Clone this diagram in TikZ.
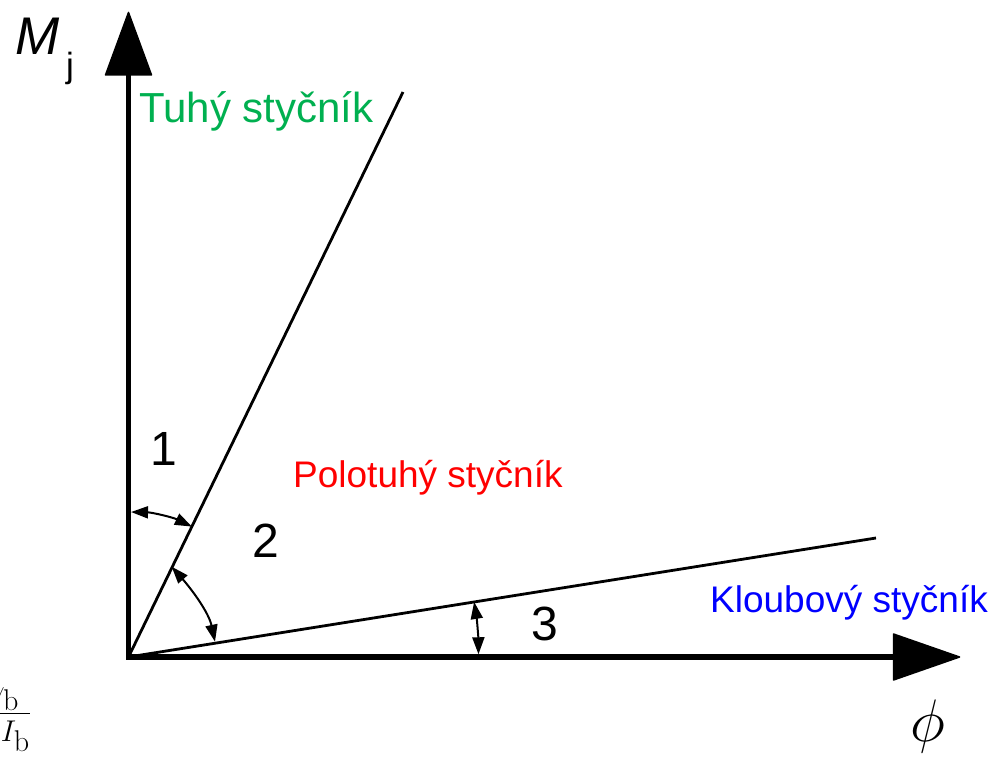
\RequirePackage{fix-cm}
\documentclass[tikz,border=0pt]{standalone}
\usepackage[no-math]{fontspec}
\setmainfont{Liberation Sans}
\usetikzlibrary{arrows.meta,calc}
\definecolor{rigidgreen}{RGB}{0,176,80}
\definecolor{semired}{RGB}{255,0,0}
\definecolor{pinblue}{RGB}{0,0,255}
\begin{document}
\begin{tikzpicture}[x=1pt,y=1pt,
  axisline/.style={line width=5.5pt, line join=miter},
  axishead/.style={fill=black, draw=black, line width=1.5pt, line join=round},
  jointline/.style={line width=2.8pt},
  anglemark/.style={line width=2pt, {Triangle[length=17pt,width=12pt]}-{Triangle[length=17pt,width=12pt]}},
  lbl/.style={inner sep=0pt, anchor=base west},
  num/.style={inner sep=0pt, anchor=base, font=\fontsize{48}{56}\selectfont},
]
\useasboundingbox (0,0) rectangle (992,756);
\coordinate (O) at (128.5,99);
\coordinate (Ytip) at (128.5,743.5);
\coordinate (Ybase) at (128.5,681);
\coordinate (Xtip) at (959.5,99);
\coordinate (Xbase) at (893.5,99);
\coordinate (Rend) at (403,664);
\coordinate (Kend) at (876,218);
% axes
\draw[axisline] (Ybase) -- (O) -- (Xbase);
\filldraw[axishead] (Ytip) -- (105.5,681) -- (151.5,681) -- cycle;
\filldraw[axishead] (Xtip) -- (893.5,122) -- (893.5,76) -- cycle;
% joint lines
\draw[jointline] (O) -- (Rend);
\draw[jointline] (O) -- (Kend);
% angle marks
\draw[anglemark] ($(O)+(89:145)$) arc[start angle=89, end angle=64.1, radius=145];
\draw[anglemark] (171.7,189.3) .. controls (191.5,166.8) and (208.7,143.7) .. (215,114.3);
\draw[anglemark] ($(O)+(9.05:350)$) arc[start angle=9.05, end angle=0.45, radius=350];
% labels
\node[lbl, text=rigidgreen, font=\fontsize{42}{50}\selectfont] (tuhy) at (139,633) {Tuhý styčník};
\node[lbl, text=semired, font=\fontsize{37}{44}\selectfont] (polo) at (293,269) {Polotuhý styčník};
\node[lbl, text=pinblue, font=\fontsize{37}{44}\selectfont] (klou) at (710,144) {Kloubový styčník};
\node[num] (n1) at (164,291) {1};
\node[num] (n2) at (266,199) {2};
\node[num] (n3) at (545,116) {3};
\node[lbl, font=\fontsize{53}{60}\selectfont\itshape] (M) at (15,701) {M};
\node[lbl, font=\fontsize{35}{40}\selectfont] (j) at (66,678) {j};
\node[inner sep=0pt, anchor=base, font=\fontsize{60}{70}\selectfont] (phi) at (928,15) {$\phi$};
\node[inner sep=0pt, anchor=base east, font=\fontsize{30}{36}\selectfont] (frac) at (31,35.5) {$\displaystyle\frac{\gamma_{\textstyle\mathrm{b}}}{E I_{\textstyle\mathrm{b}}}$};
\end{tikzpicture}
\end{document}
